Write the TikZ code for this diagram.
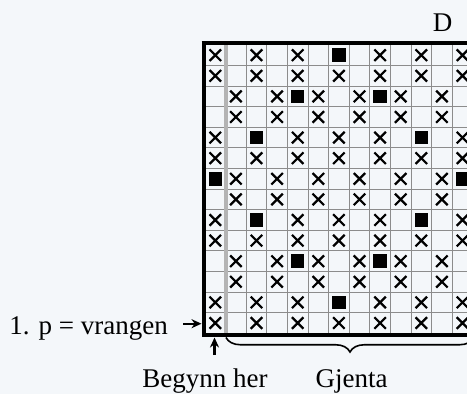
\documentclass[tikz,border=0pt]{standalone}
\usepackage{fontspec}
\setmainfont{Liberation Serif}
\usepackage{tikz}
\usetikzlibrary{arrows.meta, positioning, calc, decorations.pathreplacing}
\definecolor{cBg}{HTML}{F4F7FA}
\definecolor{cGrid}{HTML}{8C8C8C}
\definecolor{cEdge}{HTML}{B4B4B4}

\begin{document}
\begin{tikzpicture}[x=1pt, y=1pt,
    lbl/.style={font=\fontsize{27}{30}\selectfont, inner sep=0pt},
    ar/.style={-{Stealth[length=10pt,width=9pt]}, line width=2.2pt},
    gl/.style={cGrid, line width=1pt},
    kant/.style={cEdge, line width=4pt},
    rand/.style={black, line width=4pt},
    kryss/.style={line width=2.2pt},
    brc/.style={decorate, decoration={brace, mirror, amplitude=14.5pt}, line width=1.6pt},
]

% === CANVAS ===
\fill[cBg] (0,0) rectangle (467,394);
\useasboundingbox (0,0) rectangle (467,394);
\clip (0,0) rectangle (467,394);

% === CHART: 13 x 14 cells ===
\begin{scope}[shift={(205,60.7)}, x=20.6pt, y=20.6pt]
  \foreach \i in {0,...,14} \draw[gl] (0,\i) -- (13.5,\i);
  \foreach \j in {0,...,13} \draw[gl] (\j,0) -- (\j,14);
  \draw[kant] (1,0) -- (1,14);

  % crosses
  \foreach \r/\cs in {1/{1,3,5,9,11,13}, 2/{1,3,5,7,9,11,13},
                      3/{2,4,6,8,10,12}, 4/{2,4,6,8,10,12},
                      5/{1,5,7,9,13}, 6/{1,3,5,7,9,11,13},
                      7/{2,4,6,8,10,12}, 8/{2,4,6,8,10,12},
                      9/{1,5,7,9,13}, 10/{1,3,5,7,9,11,13},
                      11/{2,4,6,8,10,12}, 12/{2,4,6,8,10,12},
                      13/{1,3,5,9,11,13}, 14/{1,3,5,7,9,11,13}}
    \foreach \c in \cs
      \draw[kryss] (\c-0.5,14.5-\r) +(-0.28,-0.28) -- +(0.28,0.28)
                                    +(-0.28,0.28) -- +(0.28,-0.28);

  % filled cells
  \foreach \r/\cs in {1/{7}, 3/{5,9}, 5/{3,11}, 7/{1,13},
                      9/{3,11}, 11/{5,9}, 13/{7}}
    \foreach \c in \cs
      \fill (\c-0.5,14.5-\r) +(-0.33,-0.33) rectangle +(0.33,0.33);
\end{scope}

% borders
\draw[rand] (203.7,352.5) -- (203.7,58.7) -- (480,58.7);
\draw[rand] (201.7,350.5) -- (480,350.5);

% === LABELS ===
\node[lbl, anchor=base] (diag) at (442.5,362.3) {D};

\node[lbl, anchor=base east] (vrang) at (168,59.5) {1. p = vrangen};
\coordinate (inn) at (201.5,70.3);
\draw[ar] ($(inn -| vrang.east)+(15,0)$) -- (inn);

\node[lbl, anchor=base] (start) at (205,6) {Begynn her};
\coordinate (startpil) at (214.5,56.5);
\draw[ar] ($(startpil |- start.north)+(0,14)$) -- (startpil);

\node[lbl, anchor=base] (gjenta) at (351.5,6) {Gjenta};
\coordinate (brA) at (226,56.5);
\coordinate (brB) at (474,56.5);
\draw[brc] (brA) -- (brB);

\end{tikzpicture}
\end{document}
